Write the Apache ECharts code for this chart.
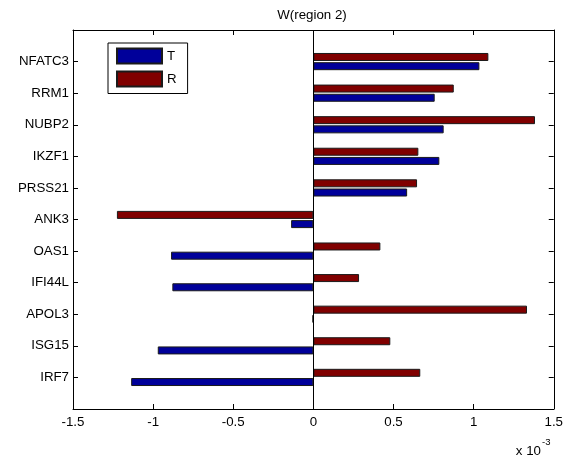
<!DOCTYPE html>
<html>
<head>
<meta charset="utf-8">
<script src="https://cdn.jsdelivr.net/npm/echarts@6/dist/echarts.min.js"></script>
<style>
html,body{margin:0;padding:0;background:#fff;}
#chart{width:566px;height:464px;}
</style>
</head>
<body>
<div id="chart"></div>
<script>
// Categories listed bottom to top
const categories = ['IRF7', 'ISG15', 'APOL3', 'IFI44L', 'OAS1', 'ANK3', 'PRSS21', 'IKZF1', 'NUBP2', 'RRM1', 'NFATC3'];
// Values in units of 1e-3
const seriesT = [-1.137, -0.971, -0.005, -0.880, -0.888, -0.139, 0.585, 0.786, 0.813, 0.757, 1.036];
const seriesR = [0.667, 0.480, 1.333, 0.285, 0.418, -1.226, 0.647, 0.655, 1.383, 0.876, 1.092];
const xTicks = [-1.5, -1, -0.5, 0, 0.5, 1, 1.5];
const titleText = 'W(region 2)';
const exponentText = '-3';

const FONT = 'Liberation Sans';
const FS = 13.3;

// pad with empty slots so ticks sit at 1..11 on a 0..12 range
const yCats = [''].concat(categories, ['']);
const padT = [null].concat(seriesT, [null]);
const padR = [null].concat(seriesR, [null]);

const chart = echarts.init(document.getElementById('chart'), null, {renderer: 'canvas'});

const xBase = {
  type: 'value',
  min: xTicks[0],
  max: xTicks[xTicks.length - 1],
  interval: 0.5,
  splitLine: {show: false},
  axisLine: {show: true, onZero: false, lineStyle: {color: '#000', width: 1}},
  axisTick: {show: true, inside: true, length: 5, lineStyle: {color: '#000'}},
};
const yBase = {
  type: 'category',
  data: yCats,
  boundaryGap: false,
  splitLine: {show: false},
  axisLine: {show: true, onZero: false, lineStyle: {color: '#000', width: 1}},
  axisTick: {show: true, inside: true, length: 5, alignWithLabel: true,
    interval: function (i) { return i > 0 && i < yCats.length - 1; },
    lineStyle: {color: '#000'}},
};

chart.setOption({
  animation: false,
  backgroundColor: '#fff',
  textStyle: {fontFamily: FONT},
  grid: {left: 73, right: 12, top: 30, bottom: 55, containLabel: false},
  legend: {
    orient: 'vertical',
    left: 108, top: 43,
    data: ['T', 'R'],
    itemWidth: 45, itemHeight: 15, itemGap: 6,
    padding: [4.5, 11, 6, 8],
    borderColor: '#000', borderWidth: 1, backgroundColor: '#fff',
    icon: 'rect',
    textStyle: {fontFamily: FONT, fontSize: FS, color: '#000', lineHeight: 15},
  },
  xAxis: [
    Object.assign({}, xBase, {
      position: 'bottom',
      axisLabel: {show: true, color: '#000', fontFamily: FONT, fontSize: FS, margin: 7,
        formatter: function (v) { return String(Math.round(v * 10) / 10); }},
    }),
    Object.assign({}, xBase, {position: 'top', axisLabel: {show: false}}),
  ],
  yAxis: [
    Object.assign({}, yBase, {
      position: 'left',
      axisLabel: {show: true, interval: 0, color: '#000', fontFamily: FONT, fontSize: FS, margin: 4},
    }),
    Object.assign({}, yBase, {position: 'right', axisLabel: {show: false}}),
  ],
  series: [
    {
      name: 'R', type: 'bar', data: padR, xAxisIndex: 0, yAxisIndex: 0,
      barWidth: 8, barGap: '15%',
      itemStyle: {color: '#800000', borderColor: '#1a1a1a', borderWidth: 1},
      markLine: {
        silent: true, symbol: 'none', label: {show: false},
        lineStyle: {color: '#000', width: 1, type: 'solid'},
        data: [{xAxis: 0}],
      },
    },
    {
      name: 'T', type: 'bar', data: padT, xAxisIndex: 0, yAxisIndex: 0,
      barWidth: 8, barGap: '15%',
      itemStyle: {color: '#00009A', borderColor: '#1a1a1a', borderWidth: 1},
    },
  ],
  graphic: [
    {type: 'text', x: 312, y: 15, style: {text: titleText, fontFamily: FONT, fontSize: FS, fill: '#000', align: 'center', verticalAlign: 'middle'}},
    {type: 'text', x: 541, y: 451, style: {text: 'x 10', fontFamily: FONT, fontSize: FS, fill: '#000', align: 'right', verticalAlign: 'middle'}},
    {type: 'text', x: 542, y: 442, style: {text: exponentText, fontFamily: FONT, fontSize: 9.5, fill: '#000', align: 'left', verticalAlign: 'middle'}},
  ],
});
</script>
</body>
</html>
